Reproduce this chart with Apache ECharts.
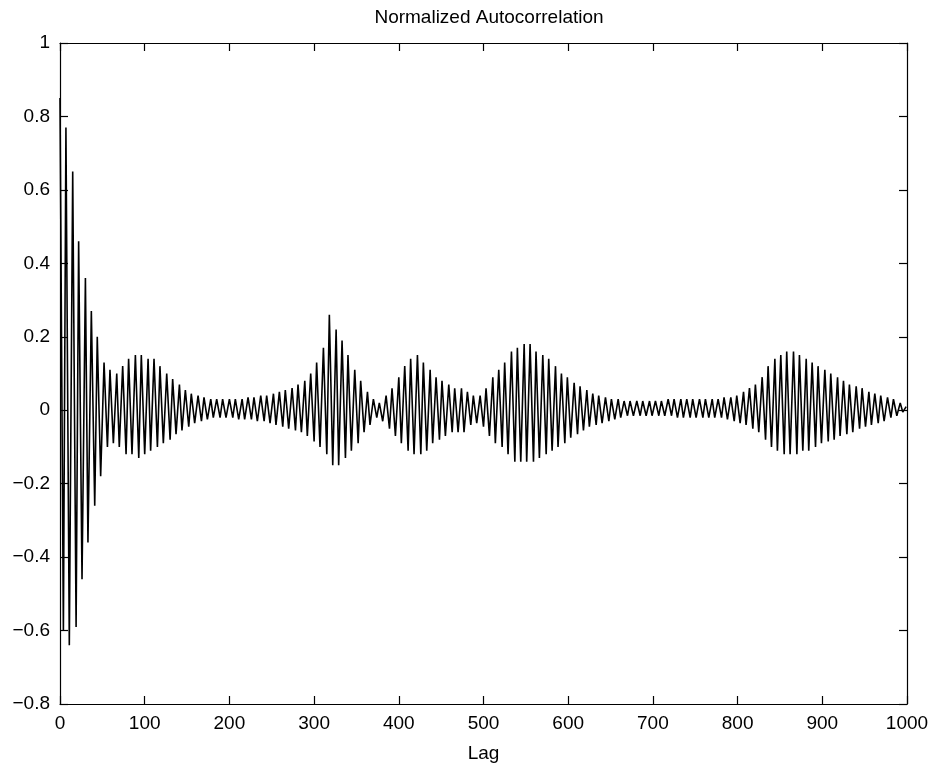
<!DOCTYPE html>
<html>
<head>
<meta charset="utf-8">
<script src="https://cdn.jsdelivr.net/npm/echarts@6/dist/echarts.min.js"></script>
<style>
html,body{margin:0;padding:0;background:#fff;}
#chart{width:939px;height:768px;}
</style>
</head>
<body>
<div id="chart"></div>
<script>
// Lag positions of the successive peaks/troughs
var lags = [
  0,4,7,11,15,19,22,26,30,33,37,41,44,48,52,56,59,63,67,70,74,78,81,85,89,93,96,100,104,107,
  111,115,118,122,126,130,133,137,141,144,148,152,155,159,163,167,170,174,178,181,185,189,192,196,200,204,207,211,215,218,
  222,226,229,233,237,241,244,248,252,255,259,263,266,270,274,278,281,285,289,292,296,300,303,307,311,315,318,322,326,329,
  333,337,340,344,348,352,355,359,363,366,370,374,377,381,385,389,392,396,400,403,407,411,414,418,422,426,429,433,437,440,
  444,448,451,455,459,463,466,470,474,477,481,485,488,492,496,500,503,507,511,514,518,522,525,529,533,537,540,544,548,551,
  555,559,562,566,570,574,577,581,585,588,592,596,599,603,607,611,614,618,622,625,629,633,636,640,644,648,651,655,659,662,
  666,670,673,677,681,685,688,692,696,699,703,707,710,714,718,722,725,729,733,736,740,744,747,751,755,759,762,766,770,773,
  777,781,784,788,792,796,799,803,807,810,814,818,821,825,829,833,836,840,844,847,851,855,858,862,866,870,873,877,881,884,
  888,892,895,899,903,907,910,914,918,921,925,929,932,936,940,944,947,951,955,958,962,966,969,973,977,981,984,988,992,995,
  999
];
// Normalized autocorrelation value at each of those lags
var acf = [
  0.85,-0.60,0.77,-0.64,0.65,-0.59,0.46,-0.46,0.36,-0.36,0.27,-0.26,0.20,-0.18,0.13,-0.10,0.11,-0.09,0.10,-0.10,0.12,-0.12,0.14,-0.12,0.15,-0.13,0.15,-0.12,0.14,-0.11,
  0.14,-0.10,0.12,-0.09,0.10,-0.08,0.085,-0.065,0.07,-0.055,0.055,-0.045,0.045,-0.035,0.04,-0.03,0.035,-0.025,0.03,-0.02,0.03,-0.02,0.03,-0.02,0.03,-0.02,0.03,-0.025,0.03,-0.025,
  0.035,-0.025,0.035,-0.03,0.04,-0.03,0.04,-0.035,0.045,-0.04,0.05,-0.045,0.055,-0.05,0.06,-0.055,0.07,-0.06,0.08,-0.07,0.10,-0.085,0.13,-0.10,0.17,-0.12,0.26,-0.15,0.22,-0.15,
  0.19,-0.13,0.15,-0.11,0.11,-0.09,0.08,-0.06,0.05,-0.04,0.03,-0.02,0.02,-0.03,0.04,-0.05,0.06,-0.07,0.09,-0.09,0.12,-0.11,0.14,-0.12,0.15,-0.12,0.13,-0.11,0.11,-0.09,
  0.09,-0.08,0.08,-0.07,0.07,-0.06,0.06,-0.06,0.06,-0.06,0.05,-0.04,0.04,-0.035,0.04,-0.045,0.06,-0.07,0.09,-0.09,0.11,-0.10,0.13,-0.12,0.16,-0.14,0.17,-0.14,0.18,-0.14,
  0.18,-0.14,0.16,-0.13,0.15,-0.12,0.14,-0.11,0.12,-0.10,0.10,-0.09,0.09,-0.075,0.075,-0.065,0.065,-0.055,0.055,-0.045,0.045,-0.04,0.04,-0.035,0.035,-0.03,0.03,-0.025,0.03,-0.02,
  0.025,-0.015,0.025,-0.015,0.025,-0.015,0.025,-0.015,0.025,-0.015,0.025,-0.015,0.025,-0.015,0.03,-0.015,0.03,-0.02,0.03,-0.02,0.03,-0.02,0.03,-0.02,0.03,-0.02,0.03,-0.02,0.03,-0.02,
  0.03,-0.02,0.035,-0.025,0.035,-0.03,0.04,-0.035,0.05,-0.04,0.06,-0.05,0.07,-0.06,0.09,-0.08,0.12,-0.10,0.14,-0.11,0.15,-0.12,0.16,-0.12,0.16,-0.12,0.15,-0.11,0.14,-0.11,
  0.13,-0.10,0.12,-0.09,0.11,-0.085,0.10,-0.08,0.09,-0.07,0.08,-0.065,0.07,-0.06,0.065,-0.05,0.06,-0.045,0.05,-0.04,0.045,-0.035,0.04,-0.03,0.035,-0.02,0.03,-0.015,0.02,-0.005,
  0.01
];
var xTicks = [0,100,200,300,400,500,600,700,800,900,1000];
var yTicks = [-0.8,-0.6,-0.4,-0.2,0,0.2,0.4,0.6,0.8,1];
var titleText = 'Normalized Autocorrelation';
var xLabel = 'Lag';

var pts = lags.map(function(l, i){ return [l, acf[i]]; });
var font = '"Liberation Sans", Arial, Helvetica, sans-serif';
function fmtY(v){
  var r = Math.round(v*10)/10;
  var s = (Math.abs(r) < 1e-9) ? '0' : String(r);
  return s.replace('-', '\u2212');
}
function fmtX(v){ return String(Math.round(v)); }
var chart = echarts.init(document.getElementById('chart'), null, {renderer:'canvas'});
var axisCommon = {
  axisLine:{show:true, onZero:false, lineStyle:{color:'#000', width:1.2}},
  axisTick:{show:true, inside:true, length:8, lineStyle:{color:'#000', width:1.2}},
  splitLine:{show:false}
};
chart.setOption({
  animation:false,
  backgroundColor:'#fff',
  title:{
    text:titleText, left:484, top:3, textAlign:'center',
    textStyle:{fontFamily:font, fontSize:19, fontWeight:'normal', color:'#000'}
  },
  grid:{left:60, right:32, top:43, bottom:58, containLabel:false},
  xAxis:[
    Object.assign({}, axisCommon, {
      type:'value', position:'bottom', min:xTicks[0], max:xTicks[xTicks.length-1], interval:100,
      name:xLabel, nameLocation:'middle', nameGap:40,
      nameTextStyle:{fontFamily:font, fontSize:19, color:'#000'},
      axisLabel:{show:true, margin:10, fontFamily:font, fontSize:19, color:'#000', formatter:fmtX}
    }),
    Object.assign({}, axisCommon, {
      type:'value', position:'top', min:xTicks[0], max:xTicks[xTicks.length-1], interval:100,
      axisLabel:{show:false}
    })
  ],
  yAxis:[
    Object.assign({}, axisCommon, {
      type:'value', position:'left', min:yTicks[0], max:yTicks[yTicks.length-1], interval:0.2,
      axisLabel:{show:true, margin:10, fontFamily:font, fontSize:19, color:'#000', formatter:fmtY}
    }),
    Object.assign({}, axisCommon, {
      type:'value', position:'right', min:yTicks[0], max:yTicks[yTicks.length-1], interval:0.2,
      axisLabel:{show:false}
    })
  ],
  series:[{
    type:'line', xAxisIndex:0, yAxisIndex:0, data:pts,
    showSymbol:false, symbol:'none', smooth:false,
    lineStyle:{color:'#000', width:1.6}
  }]
});
</script>
</body>
</html>
